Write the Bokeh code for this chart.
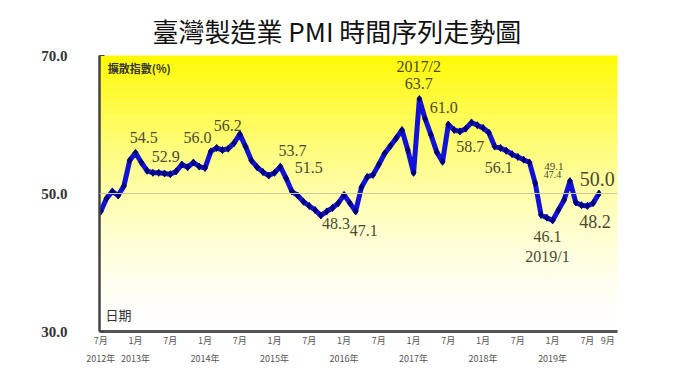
import numpy as np
from bokeh.plotting import figure
from bokeh.models import Range1d, FixedTicker, Span, ColumnDataSource
from bokeh.core.properties import value
from bokeh.embed import file_html
from bokeh.resources import INLINE

# ---- data: Taiwan manufacturing PMI, monthly 2012/7 .. 2019/9 ----
start_year, start_month = 2012, 7
pmi = [47.4, 49.3, 50.3, 49.7, 51.1, 54.8, 55.9, 54.5, 53.3, 53.0,
       53.0, 52.9, 52.8, 53.2, 54.2, 53.8, 54.5, 53.9, 53.7, 56.1,
       56.6, 56.3, 56.5, 57.3, 58.6, 56.8, 54.8, 53.8, 53.1, 52.6,
       53.0, 53.9, 52.2, 50.3, 49.7, 48.8, 48.2, 47.6, 46.8, 47.4,
       47.9, 48.6, 49.8, 48.6, 47.4, 50.9, 52.4, 52.7, 54.2, 55.8,
       56.9, 58.0, 59.2, 56.3, 53.0, 63.7, 60.8, 58.5, 56.0, 54.6,
       60.0, 59.2, 59.0, 59.4, 60.3, 59.9, 59.5, 58.8, 56.8, 56.6,
       56.2, 55.7, 55.3, 54.9, 54.5, 51.5, 46.9, 46.5, 46.1, 47.6,
       49.1, 51.8, 48.7, 48.3, 48.2, 48.6, 50.0]
month_idx = list(range(len(pmi)))

# axis tick labels (month row / year row)
month_ticks = [0, 6, 12, 18, 24, 30, 36, 42, 48, 54, 60, 66, 72, 78, 84, 87.5]
month_tick_labels = ["7月", "1月", "7月", "1月", "7月", "1月", "7月", "1月",
                     "7月", "1月", "7月", "1月", "7月", "1月", "7月", "9月"]
year_ticks = [0, 6, 18, 30, 42, 54, 66, 78]
year_tick_labels = ["2012年", "2013年", "2014年", "2015年", "2016年",
                    "2017年", "2018年", "2019年"]
y_ticks = [30, 50, 70]
y_tick_labels = ["30.0", "50.0", "70.0"]

# annotation texts as printed on the chart
ann_text = ["54.5", "52.9", "56.0", "56.2", "53.7", "51.5", "48.3", "47.1",
            "2017/2", "63.7", "61.0", "58.7", "56.1", "49.1", "47.4",
            "50.0", "48.2", "46.1", "2019/1"]
# placement (month index / value units) and sizes for the annotations
ann_x = [7.4, 11.2, 16.7, 21.9, 33.1, 35.9, 40.6, 45.4,
         54.9, 54.9, 59.2, 63.8, 68.7, 78.2, 78.0,
         85.7, 85.3, 77.1, 77.1]
ann_y = [58.1, 55.4, 58.1, 59.8, 56.2, 53.7, 45.7, 44.6,
         68.4, 66.0, 62.4, 56.8, 53.8, 53.9, 52.8,
         52.1, 45.9, 43.8, 40.9]
ann_size = ["16px"] * 13 + ["11px", "10px", "20px", "18px", "16px", "16px"]

# combined two-row tick labels
tick_labels = {}
for t_, m in zip(month_ticks, month_tick_labels):
    tick_labels[t_] = m
for t_, yl in zip(year_ticks, year_tick_labels):
    tick_labels[t_] = tick_labels[t_] + "\n" + yl

p = figure(width=664, height=367, output_backend="svg", toolbar_location=None,
           x_range=Range1d(-0.22, 89.2), y_range=Range1d(30, 70),
           min_border_left=99, min_border_right=47, min_border_top=55,
           min_border_bottom=33)

p.background_fill_color = "white"
p.border_fill_color = "white"
p.outline_line_color = None
p.xgrid.visible = False
p.ygrid.visible = False

# yellow gradient background
edges = np.linspace(30, 70, 81)
t = ((edges[:-1] + edges[1:]) / 2 - 30) / 40
blue = (255 * (1 - t ** 1.6)).clip(0, 255).astype(int)
green = (255 - 6 * t ** 3).astype(int)
grad_colors = ["#%02x%02x%02x" % (255, g, b) for g, b in zip(green, blue)]
p.quad(left=-5, right=100, bottom=edges[:-1], top=edges[1:] + 0.06,
       fill_color=grad_colors, line_color=None)

p.add_layout(Span(location=50, dimension="width", line_color="#cfc9a0",
                  line_width=1))

# series
p.line(month_idx, pmi, line_width=5, line_color="#1212d6", line_join="round")
p.scatter(month_idx, pmi, marker="diamond", size=7, color="#00007a")

# value annotations
src = ColumnDataSource(dict(x=ann_x, y=ann_y, text=ann_text, size=ann_size))
p.text(x="x", y="y", text="text", source=src, text_font=value("Liberation Serif"),
       text_font_size="size", text_color="#4a4a30", text_align="center",
       text_baseline="middle")

p.text(x=[1.2], y=[68.2], text=["擴散指數(%)"], text_font=value("Noto Sans CJK TC"),
       text_font_size="11px", text_font_style="bold", text_color="#333333",
       text_align="left", text_baseline="middle")
p.text(x=[0.8], y=[32.5], text=["日期"], text_font=value("Noto Sans CJK TC"),
       text_font_size="13px", text_color="#333333",
       text_align="left", text_baseline="middle")

# y axis
ya = p.yaxis[0]
ya.ticker = FixedTicker(ticks=y_ticks, minor_ticks=[])
ya.major_label_overrides = dict(zip(y_ticks, y_tick_labels))
ya.major_label_text_font = "Liberation Serif"
ya.major_label_text_font_style = "bold"
ya.major_label_text_font_size = "15px"
ya.major_label_text_color = "#333333"
ya.major_label_standoff = 32
ya.axis_line_width = 2.5
ya.axis_line_color = "#444444"
ya.major_tick_in = 5
ya.major_tick_out = 0
ya.major_tick_line_color = "#444444"
ya.minor_tick_line_color = None

# x axis (months + years)
xa = p.xaxis[0]
xa.ticker = FixedTicker(ticks=month_ticks, minor_ticks=[])
xa.major_label_overrides = tick_labels
xa.major_label_text_font = "Noto Sans CJK TC"
xa.major_label_text_font_size = "9px"
xa.major_label_text_color = "#555555"
xa.major_label_text_line_height = 1.4
xa.major_label_text_baseline = "top"
xa.major_label_standoff = 2
xa.major_tick_in = 0
xa.major_tick_out = 0
xa.major_tick_line_color = None
xa.minor_tick_line_color = None
xa.axis_line_width = 3
xa.axis_line_color = "#555555"

# title
p.title.text = "臺灣製造業 PMI 時間序列走勢圖"
p.title.text_font = "Noto Sans CJK TC"
p.title.text_font_size = "26px"
p.title.text_font_style = "normal"
p.title.text_color = "#111111"
p.title.align = "left"
p.title.offset = 53
p.title.standoff = 14

open("out.html", "w").write(file_html(p, INLINE))
